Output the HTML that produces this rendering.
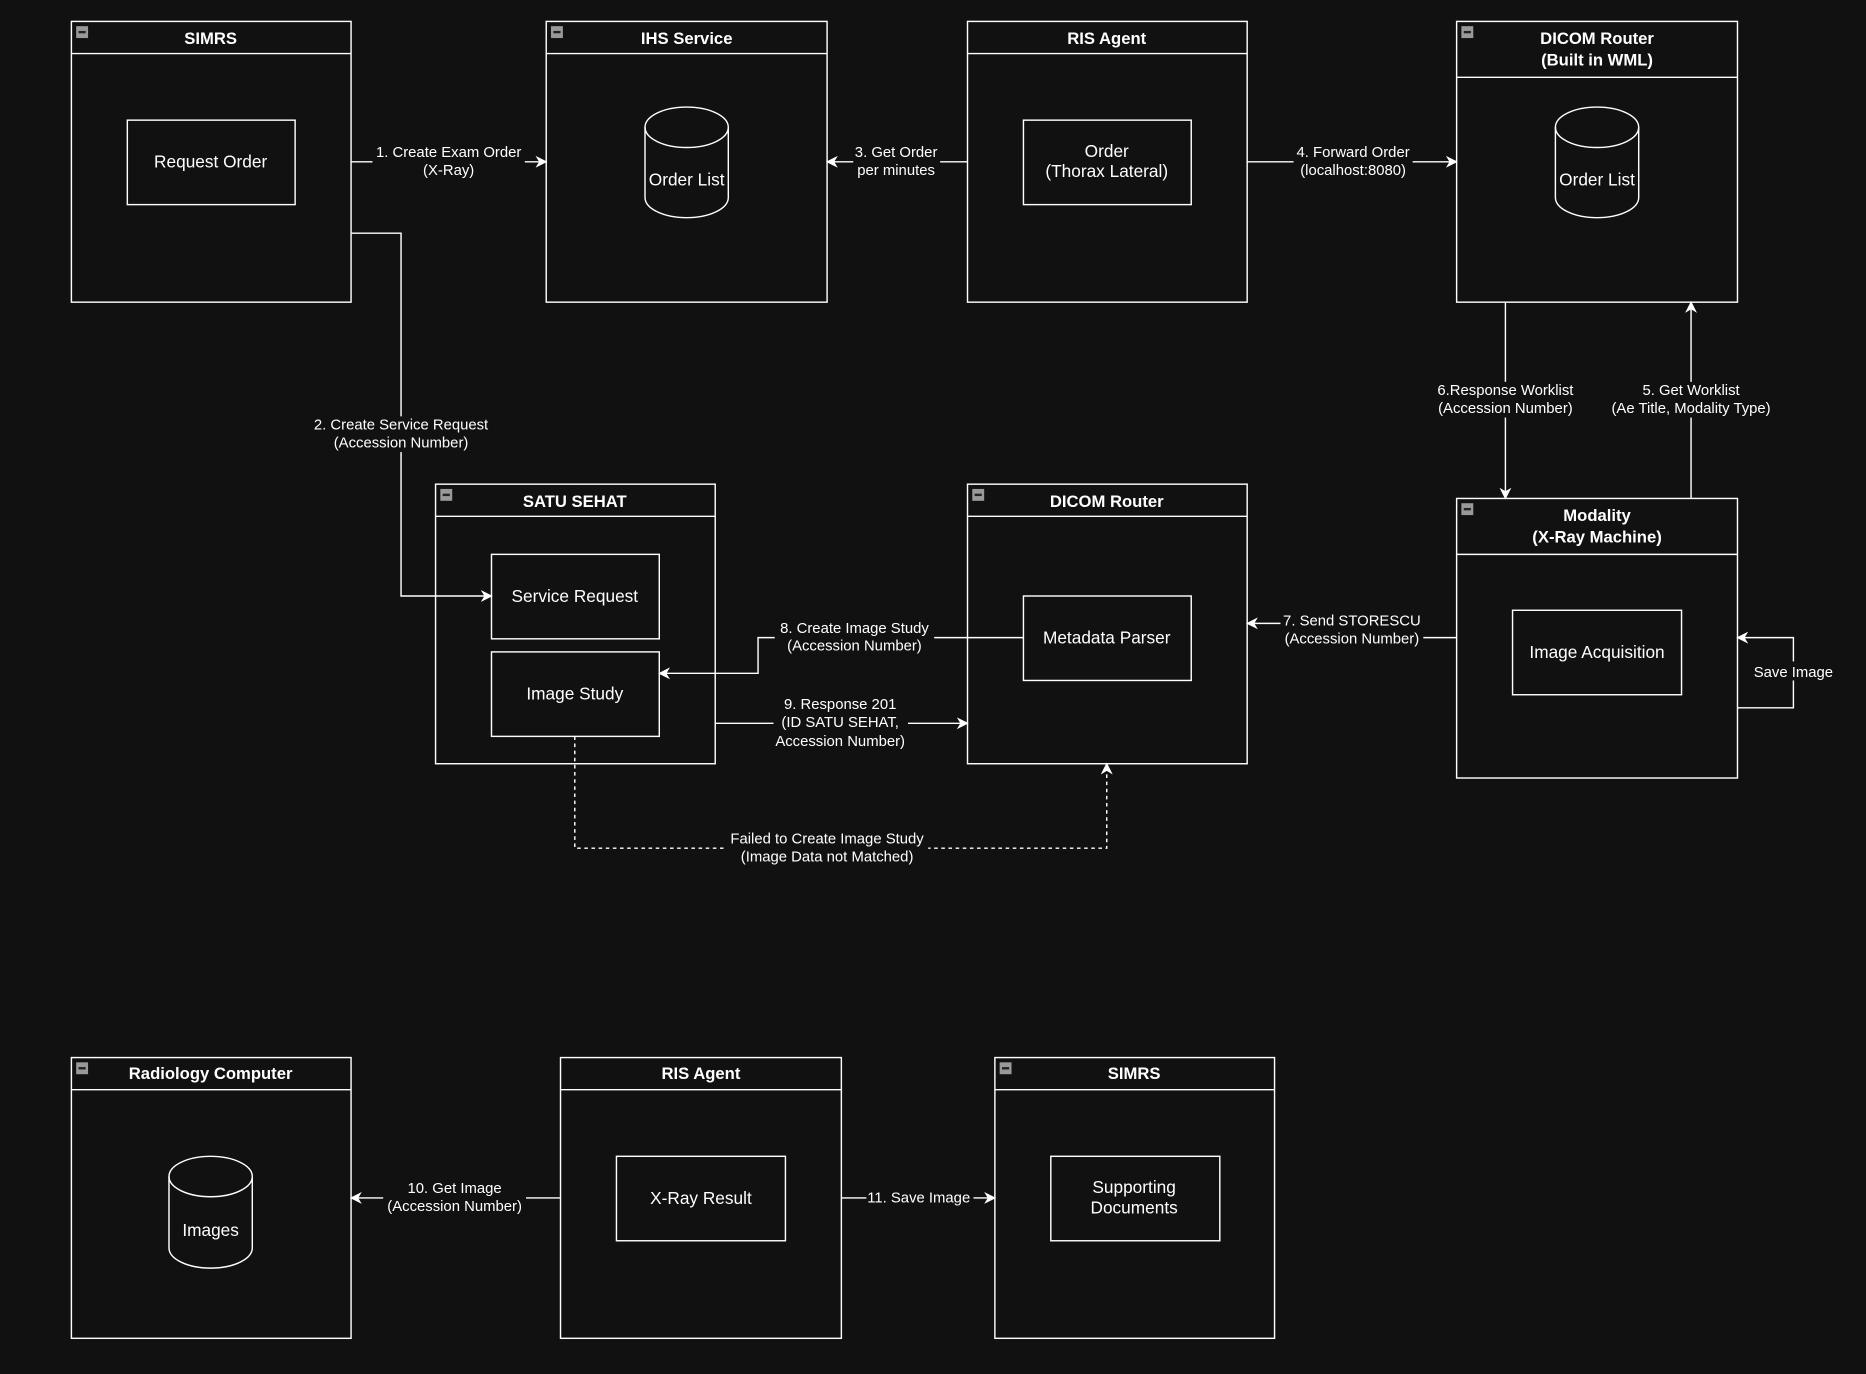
<!DOCTYPE html>
<html><head><meta charset="utf-8"><style>
html,body{margin:0;padding:0;background:#111;}
svg{display:block}
text{font-family:"Liberation Sans",Arial,sans-serif;fill:#fff;}
</style></head><body>
<svg width="1866" height="1374" viewBox="0 0 1568 1155" preserveAspectRatio="none" xmlns="http://www.w3.org/2000/svg">
<defs>
<marker id="a" viewBox="0 0 10 10" refX="9" refY="5" markerWidth="10" markerHeight="10" orient="auto-start-reverse" markerUnits="userSpaceOnUse"><path d="M0,0 L10,5 L0,10 L3,5 Z" fill="#fff"/></marker>
<g id="ic"><rect x="0" y="0" width="10" height="10" fill="#999"/><rect x="2" y="4" width="6" height="2" fill="#222"/></g>
</defs>
<rect width="1568" height="1155" fill="#111"/>
<g fill="none" stroke="#fff" stroke-width="1.2">
<rect x="60" y="18" width="235" height="236"/><line x1="60" y1="45" x2="295" y2="45"/>
<rect x="459" y="18" width="236" height="236"/><line x1="459" y1="45" x2="695" y2="45"/>
<rect x="813" y="18" width="235" height="236"/><line x1="813" y1="45" x2="1048" y2="45"/>
<rect x="1224" y="18" width="236" height="236"/><line x1="1224" y1="65" x2="1460" y2="65"/>
<rect x="366" y="407" width="235" height="235"/><line x1="366" y1="434" x2="601" y2="434"/>
<rect x="813" y="407" width="235" height="235"/><line x1="813" y1="434" x2="1048" y2="434"/>
<rect x="1224" y="419" width="236" height="235"/><line x1="1224" y1="466" x2="1460" y2="466"/>
<rect x="60" y="889" width="235" height="236"/><line x1="60" y1="916" x2="295" y2="916"/>
<rect x="471" y="889" width="236" height="236"/><line x1="471" y1="916" x2="707" y2="916"/>
<rect x="836" y="889" width="235" height="236"/><line x1="836" y1="916" x2="1071" y2="916"/>
<rect x="107" y="101" width="141" height="71"/>
<rect x="860" y="101" width="141" height="71"/>
<rect x="413" y="466" width="141" height="71"/>
<rect x="413" y="548" width="141" height="71"/>
<rect x="860" y="501" width="141" height="71"/>
<rect x="1271" y="513" width="142" height="71"/>
<rect x="518" y="972" width="142" height="71"/>
<rect x="883" y="972" width="142" height="71"/>
<path d="M542,107 L542,166 A35,17 0 0 0 612,166 L612,107"/><ellipse cx="577" cy="107" rx="35" ry="17"/>
<path d="M1307,107 L1307,166 A35,17 0 0 0 1377,166 L1377,107"/><ellipse cx="1342" cy="107" rx="35" ry="17"/>
<path d="M142,989 L142,1049 A35,17 0 0 0 212,1049 L212,989"/><ellipse cx="177" cy="989" rx="35" ry="17"/>
<path d="M295,136 H459" marker-end="url(#a)"/>
<path d="M295,196 H337 V501 H413" marker-end="url(#a)"/>
<path d="M813,136 H695" marker-end="url(#a)"/>
<path d="M1048,136 H1224" marker-end="url(#a)"/>
<path d="M1421,419 V254" marker-end="url(#a)"/>
<path d="M1265,254 V419" marker-end="url(#a)"/>
<path d="M1224,536 H1136 V524 H1048" marker-end="url(#a)"/>
<path d="M860,536 H637 V566 H554" marker-end="url(#a)"/>
<path d="M601,608 H813" marker-end="url(#a)"/>
<path d="M483,619 V713 H930 V642" stroke-dasharray="3,3" marker-end="url(#a)"/>
<path d="M1460,595 H1507 V536 H1460" marker-end="url(#a)"/>
<path d="M471,1007 H295" marker-end="url(#a)"/>
<path d="M707,1007 H836" marker-end="url(#a)"/>
</g>
<use href="#ic" x="64" y="22"/><use href="#ic" x="463" y="22"/><use href="#ic" x="1228" y="22"/>
<use href="#ic" x="370" y="411"/><use href="#ic" x="817" y="411"/><use href="#ic" x="1228" y="423"/>
<use href="#ic" x="64" y="893"/><use href="#ic" x="840" y="893"/>
<g font-size="14" font-weight="bold" text-anchor="middle">
<text x="177" y="37">SIMRS</text>
<text x="577" y="37">IHS Service</text>
<text x="930" y="37">RIS Agent</text>
<text x="1342" y="37">DICOM Router</text><text x="1342" y="55">(Built in WML)</text>
<text x="483" y="426">SATU SEHAT</text>
<text x="930" y="426">DICOM Router</text>
<text x="1342" y="438">Modality</text><text x="1342" y="456">(X-Ray Machine)</text>
<text x="177" y="907">Radiology Computer</text>
<text x="589" y="907">RIS Agent</text>
<text x="953" y="907">SIMRS</text>
</g>
<g font-size="14.5" text-anchor="middle">
<text x="177" y="141">Request Order</text>
<text x="577" y="156">Order List</text>
<text x="930" y="132">Order</text><text x="930" y="149">(Thorax Lateral)</text>
<text x="1342" y="156">Order List</text>
<text x="483" y="506">Service Request</text>
<text x="483" y="588">Image Study</text>
<text x="930" y="541">Metadata Parser</text>
<text x="1342" y="553">Image Acquisition</text>
<text x="177" y="1039">Images</text>
<text x="589" y="1012">X-Ray Result</text>
<text x="953" y="1003">Supporting</text><text x="953" y="1020">Documents</text>
</g>
<g fill="#111">
<rect x="313" y="121" width="128" height="30"/>
<rect x="260" y="350" width="154" height="30"/>
<rect x="717" y="121" width="73" height="30"/>
<rect x="1087" y="121" width="100" height="30"/>
<rect x="1350" y="321" width="142" height="30"/>
<rect x="1203" y="321" width="124" height="30"/>
<rect x="1076" y="515" width="120" height="30"/>
<rect x="651" y="521" width="134" height="30"/>
<rect x="650" y="585" width="113" height="45"/>
<rect x="610" y="698" width="170" height="30"/>
<rect x="1471" y="556" width="72" height="16"/>
<rect x="322" y="992" width="120" height="30"/>
<rect x="728" y="999" width="90" height="16"/>
</g>
<g font-size="12.5" text-anchor="middle">
<text x="377" y="132">1. Create Exam Order</text><text x="377" y="147">(X-Ray)</text>
<text x="337" y="361">2. Create Service Request</text><text x="337" y="376">(Accession Number)</text>
<text x="753" y="132">3. Get Order</text><text x="753" y="147">per minutes</text>
<text x="1137" y="132">4. Forward Order</text><text x="1137" y="147">(localhost:8080)</text>
<text x="1421" y="332">5. Get Worklist</text><text x="1421" y="347">(Ae Title, Modality Type)</text>
<text x="1265" y="332">6.Response Worklist</text><text x="1265" y="347">(Accession Number)</text>
<text x="1136" y="526">7. Send STORESCU</text><text x="1136" y="541">(Accession Number)</text>
<text x="718" y="532">8. Create Image Study</text><text x="718" y="547">(Accession Number)</text>
<text x="706" y="596">9. Response 201</text><text x="706" y="611">(ID SATU SEHAT,</text><text x="706" y="627">Accession Number)</text>
<text x="695" y="709">Failed to Create Image Study</text><text x="695" y="724">(Image Data not Matched)</text>
<text x="1507" y="569">Save Image</text>
<text x="382" y="1003">10. Get Image</text><text x="382" y="1018">(Accession Number)</text>
<text x="772" y="1011">11. Save Image</text>
</g>
</svg>
</body></html>
